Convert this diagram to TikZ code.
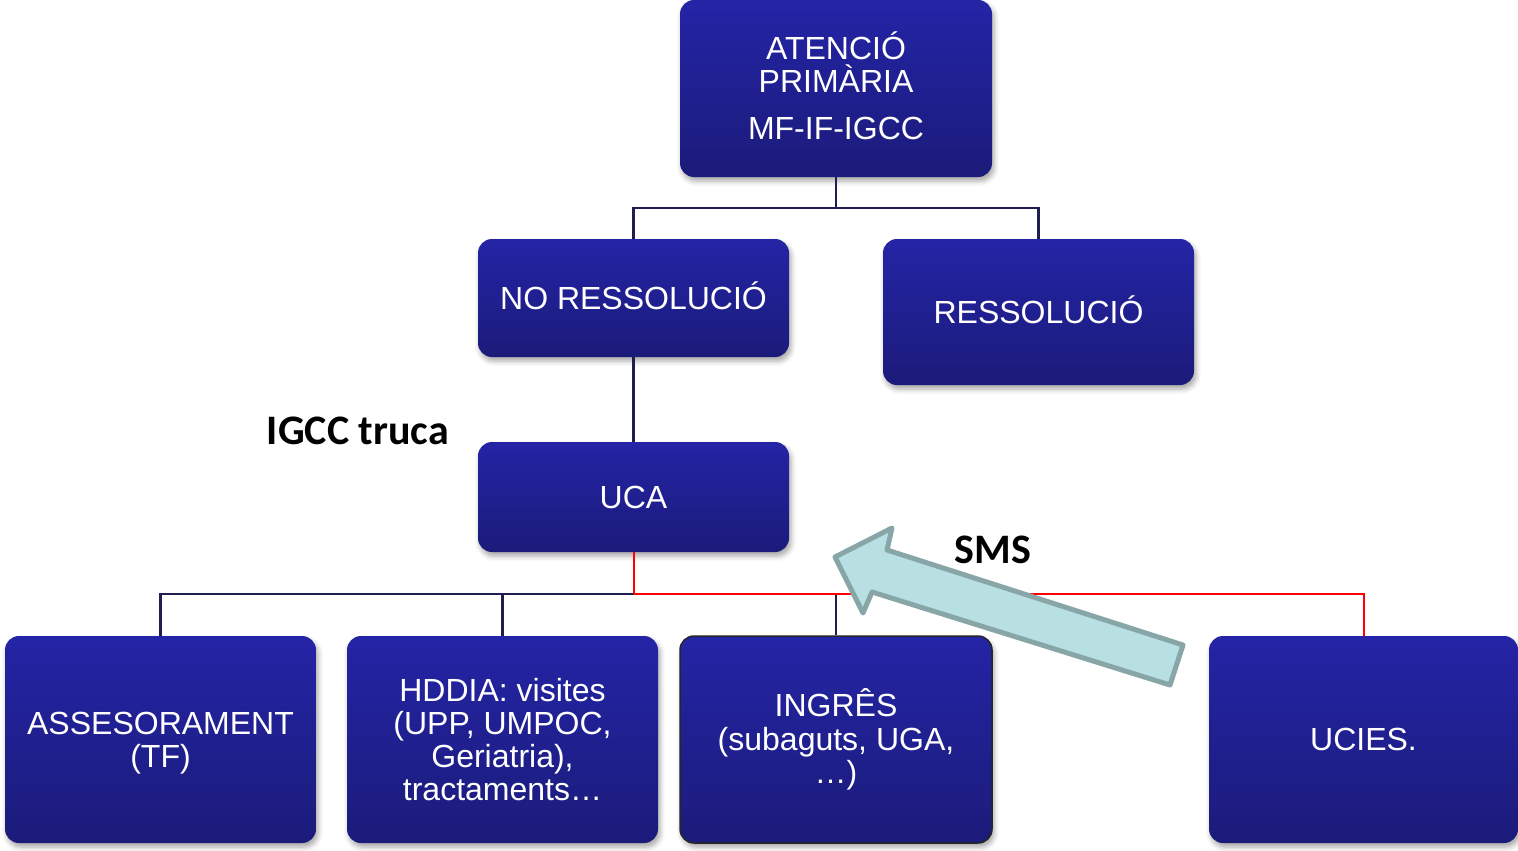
\documentclass[tikz,border=0pt]{standalone}
\usepackage{fontspec}
\usetikzlibrary{shadows,shadows.blur}
\newfontfamily\boxfont{Liberation Sans}
\newfontfamily\lblfont{Carlito}
\definecolor{boxtop}{RGB}{36,36,166}
\definecolor{boxbot}{RGB}{27,27,122}
\definecolor{navyline}{RGB}{30,30,80}
\definecolor{arrfill}{RGB}{184,224,227}
\definecolor{arrdraw}{RGB}{136,166,167}
\tikzset{
  box/.style={rounded corners=14pt, top color=boxtop, bottom color=boxbot,
    text=white, font=\boxfont\fontsize{32}{33}\selectfont, align=center,
    inner sep=0pt, minimum width=311pt,
    blur shadow={shadow xshift=2pt, shadow yshift=-4pt, shadow blur radius=5pt, shadow opacity=35}},
  conn/.style={draw=navyline, line width=2.2pt},
  redconn/.style={draw=red, line width=2pt},
  lbl/.style={font=\lblfont\bfseries\fontsize{42}{46}\selectfont, text=black, inner sep=0pt},
}
\begin{document}
\begin{tikzpicture}[x=1pt,y=-1pt]
\useasboundingbox (0,0) rectangle (1518,851);
% nodes
\node[box, minimum width=312pt, minimum height=177pt] (ap) at (836,88.5) {ATENCI\smash{Ó}\\PRIMÀRIA\\[14pt]MF-IF-IGCC};
\node[box, minimum height=118pt] (nores) at (633.5,298) {NO RESSOLUCI\smash{Ó}};
\node[box, minimum height=146pt] (res) at (1038.5,312) {RESSOLUCI\smash{Ó}};
\node[box, minimum height=110pt] (uca) at (633.5,497) {UCA};
\node[box, minimum height=207pt] (ases) at (160.5,739.5) {\rule{0pt}{29pt}ASSESORAMENT\\(TF)};
\node[box, minimum height=207pt] (hddia) at (502.5,739.5) {HDDIA: visites\\(UPP, UMPOC,\\Geriatria),\\tractaments…};
\node[box, minimum width=312pt, minimum height=207pt, draw=black!85, line width=1.5pt] (ingres) at (836,739.5) {INGRÊS\\[1pt](subaguts, UGA,\\…)};
\node[box, minimum width=309pt, minimum height=207pt] (ucies) at (1363.5,739.5) {UCIES.};
% connectors
\coordinate (t) at (836,208);
\coordinate (j) at (633.5,594);
\draw[conn] (ap.south) -- (t);
\draw[conn] (t) -| (nores.north);
\draw[conn] (t) -| (res.north);
\draw[conn] (nores.south) -- (uca.north);
\draw[conn] (j) -| (ases.north);
\draw[conn] (hddia.north) -- (hddia.north |- j);
\draw[conn] (ingres.north) -- (ingres.north |- j);
\draw[redconn] (uca.south) -- (j);
\draw[redconn] (j) -| (ucies.north);
% arrow
\coordinate (tip) at (835,557);
\coordinate (b1) at (892,528);
\coordinate (s1) at (887,550);
\coordinate (e1) at (1183,645);
\coordinate (e2) at (1170,685);
\coordinate (s2) at (872,592);
\coordinate (b2) at (863,613);
\draw[fill=arrfill, draw=arrdraw, line width=5pt, line join=round]
  (tip) -- (b1) -- (s1) -- (e1) -- (e2) -- (s2) -- (b2) -- cycle;
% labels
\node[lbl] (igcc) at (358,431) {IGCC truca};
\node[lbl] (sms) at (993,550) {SMS};
\end{tikzpicture}
\end{document}
